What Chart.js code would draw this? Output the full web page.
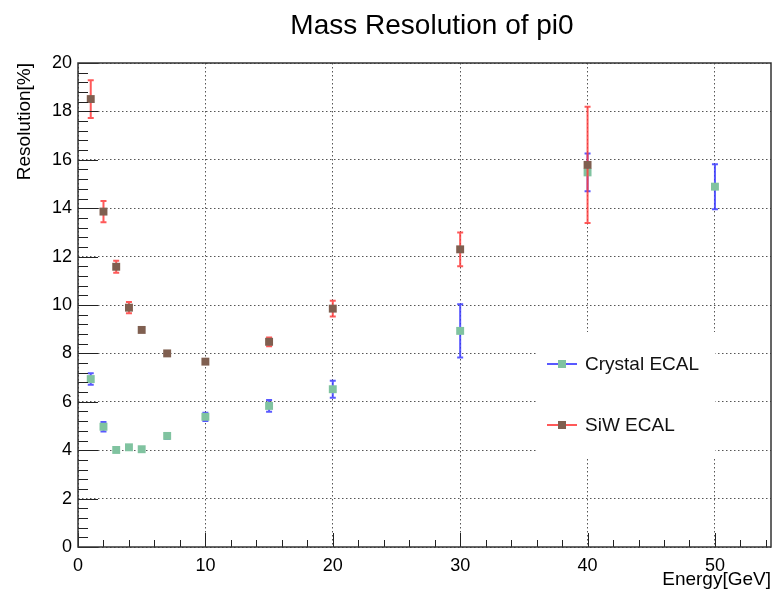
<!DOCTYPE html>
<html>
<head>
<meta charset="utf-8">
<title>Mass Resolution of pi0</title>
<script src="https://cdn.jsdelivr.net/npm/chart.js@4.4.0/dist/chart.umd.min.js"></script>
<style>
  html, body { margin: 0; padding: 0; background: #fff; }
  #wrap { width: 782px; height: 593px; }
</style>
</head>
<body>
<div id="wrap"><canvas id="resChart" width="782" height="593"></canvas></div>
<script>
// Chart text
const chartTitle = 'Mass Resolution of pi0';
const xAxisTitle = 'Energy[GeV]';
const yAxisTitle = 'Resolution[%]';
const seriesNames = ['Crystal ECAL', 'SiW ECAL'];

// Crystal ECAL points (energy in GeV, resolution in %, symmetric error)
const crystalEnergy = [1, 2, 3, 4, 5, 7, 10, 15, 20, 30, 40, 50];
const crystalRes = [6.94, 4.97, 4.01, 4.12, 4.04, 4.59, 5.38, 5.83, 6.52, 8.93, 15.48, 14.89];
const crystalErr = [0.24, 0.20, 0.05, 0.05, 0.05, 0.12, 0.17, 0.24, 0.35, 1.10, 0.78, 0.93];

// SiW ECAL points
const siwEnergy = [1, 2, 3, 4, 5, 7, 10, 15, 20, 30, 40];
const siwRes = [18.51, 13.86, 11.58, 9.89, 8.97, 8.00, 7.66, 8.48, 9.85, 12.30, 15.79];
const siwErr = [0.78, 0.44, 0.25, 0.23, 0.08, 0.06, 0.07, 0.18, 0.33, 0.70, 2.40];

// Axis ticks
const xTicks = [0, 10, 20, 30, 40, 50];
const yTicks = [0, 2, 4, 6, 8, 10, 12, 14, 16, 18, 20];

const FONT = "'Liberation Sans', Arial, Helvetica, sans-serif";

function toPoints(xs, ys) {
    return xs.map((x, i) => ({ x: x, y: ys[i] }));
}

// Draw vertical error bars under each dataset's markers
const errorBars = {
    id: 'errorBars',
    beforeDatasetDraw(chart, args) {
        const ds = chart.data.datasets[args.index];
        if (!ds.errors) return;
        const yScale = chart.scales.y;
        const ctx = chart.ctx;
        ctx.save();
        ctx.strokeStyle = ds.errorColor;
        ctx.lineWidth = 2;
        args.meta.data.forEach((pt, i) => {
            const v = ds.data[i].y;
            const e = ds.errors[i];
            const top = yScale.getPixelForValue(v + e);
            const bot = yScale.getPixelForValue(v - e);
            ctx.beginPath();
            ctx.moveTo(pt.x, top);
            ctx.lineTo(pt.x, bot);
            ctx.moveTo(pt.x - 3, top);
            ctx.lineTo(pt.x + 3, top);
            ctx.moveTo(pt.x - 3, bot);
            ctx.lineTo(pt.x + 3, bot);
            ctx.stroke();
        });
        ctx.restore();
    }
};

// ROOT-like frame with ticks on the inside, legend box and title
const rootFrame = {
    id: 'rootFrame',
    afterDatasetsDraw(chart) {
        const { ctx, chartArea: a, scales: { x, y } } = chart;
        ctx.save();

        // legend box (covers the grid)
        const lx = 537, ly = 332, lw = 178, lh = 125;
        ctx.fillStyle = '#fff';
        ctx.fillRect(lx, ly, lw, lh);
        const rows = [ly + 32, ly + 93];
        chart.data.datasets.forEach((ds, i) => {
            const ry = rows[i];
            ctx.strokeStyle = ds.errorColor;
            ctx.lineWidth = 2;
            ctx.beginPath();
            ctx.moveTo(lx + 10, ry);
            ctx.lineTo(lx + 40, ry);
            ctx.stroke();
            ctx.fillStyle = ds.backgroundColor;
            ctx.fillRect(lx + 21, ry - 4, 8, 8);
            ctx.fillStyle = '#111';
            ctx.font = '19px ' + FONT;
            ctx.textAlign = 'left';
            ctx.textBaseline = 'middle';
            ctx.fillText(ds.label, lx + 48, ry + 1);
        });

        // tick marks
        ctx.strokeStyle = '#222';
        ctx.lineWidth = 1;
        ctx.beginPath();
        for (let v = 0; v <= x.max + 1e-9; v += 2) {
            const px = Math.round(x.getPixelForValue(v)) + 0.5;
            const len = (v % 10 === 0) ? 14 : 7;
            ctx.moveTo(px, a.bottom);
            ctx.lineTo(px, a.bottom - len);
        }
        for (let k = 0; k <= 50; k++) {
            const v = k * 0.4;
            const py = Math.round(y.getPixelForValue(v)) + 0.5;
            const len = (k % 5 === 0) ? 20 : 10;
            ctx.moveTo(a.left, py);
            ctx.lineTo(a.left + len, py);
        }
        ctx.stroke();

        // frame
        ctx.strokeStyle = '#333';
        ctx.lineWidth = 1.5;
        ctx.strokeRect(a.left, a.top, a.right - a.left, a.bottom - a.top);
        ctx.restore();
    },
    afterDraw(chart) {
        const ctx = chart.ctx;
        ctx.save();
        ctx.fillStyle = '#000';
        ctx.font = '28px ' + FONT;
        ctx.textAlign = 'center';
        ctx.textBaseline = 'middle';
        ctx.fillText(chartTitle, 432, 26);
        ctx.restore();
    }
};

const gridStyle = { display: true, drawTicks: false, color: '#555', lineWidth: 1 };
const borderStyle = { display: false, dash: [1.5, 2.5] };

new Chart(document.getElementById('resChart').getContext('2d'), {
    type: 'scatter',
    data: {
        datasets: [{
            label: seriesNames[0],
            data: toPoints(crystalEnergy, crystalRes),
            errors: crystalErr,
            errorColor: 'rgba(60, 60, 255, 0.85)',
            backgroundColor: '#80c3a0',
            borderColor: '#80c3a0',
            pointStyle: 'rect',
            pointRadius: 5.6,
            pointBorderWidth: 0,
            showLine: false,
            order: 2
        }, {
            label: seriesNames[1],
            data: toPoints(siwEnergy, siwRes),
            errors: siwErr,
            errorColor: 'rgba(255, 60, 60, 0.85)',
            backgroundColor: '#7f5f50',
            borderColor: '#7f5f50',
            pointStyle: 'rect',
            pointRadius: 5.6,
            pointBorderWidth: 0,
            showLine: false,
            order: 1
        }]
    },
    options: {
        responsive: false,
        animation: false,
        layout: { padding: { top: 63, left: 0, right: 11, bottom: 0 } },
        plugins: {
            legend: { display: false },
            title: { display: false },
            tooltip: { enabled: false }
        },
        scales: {
            x: {
                type: 'linear',
                min: 0,
                max: 54.4,
                afterBuildTicks: (scale) => { scale.ticks = xTicks.map(v => ({ value: v })); },
                afterFit: (scale) => { scale.height = 46; },
                grid: gridStyle,
                border: borderStyle,
                ticks: { color: '#000', padding: 8, maxRotation: 0, font: { size: 18, family: FONT } },
                title: { display: true, text: xAxisTitle, align: 'end', color: '#000',
                         padding: { top: 0, bottom: 2 }, font: { size: 19, family: FONT } }
            },
            y: {
                type: 'linear',
                min: 0,
                max: 20,
                afterBuildTicks: (scale) => { scale.ticks = yTicks.map(v => ({ value: v })); },
                afterFit: (scale) => { scale.width = 78; },
                grid: gridStyle,
                border: borderStyle,
                ticks: { color: '#000', padding: 6, font: { size: 18, family: FONT } },
                title: { display: true, text: yAxisTitle, align: 'end', color: '#000',
                         padding: { top: 13, bottom: 0 }, font: { size: 19, family: FONT } }
            }
        }
    },
    plugins: [errorBars, rootFrame]
});
</script>
</body>
</html>
